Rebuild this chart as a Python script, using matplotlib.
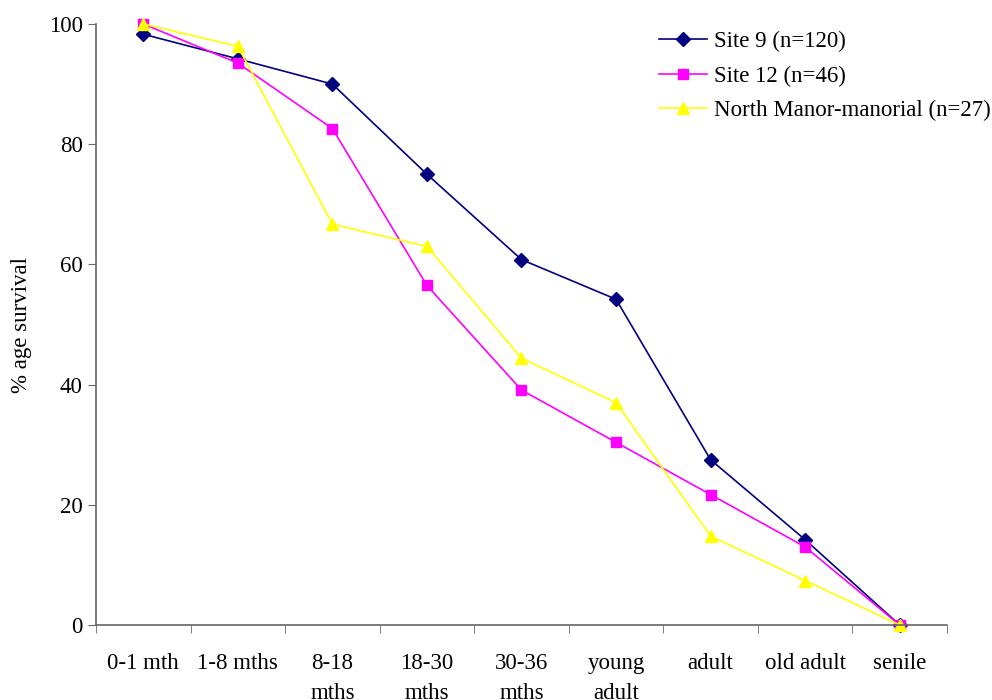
import matplotlib
matplotlib.use("Agg")
import matplotlib.pyplot as plt
import numpy as np

plt.rcParams['font.family'] = ['Liberation Serif', 'DejaVu Serif']

stages = ['0-1 mth', '1-8 mths', '8-18\nmths', '18-30\nmths', '30-36\nmths',
          'young\nadult', 'adult', 'old adult', 'senile']

site9 = [98.3, 94.2, 90.0, 75.0, 60.8, 54.2, 27.5, 14.2, 0.0]
site12 = [100.0, 93.5, 82.6, 56.5, 39.1, 30.4, 21.7, 13.0, 0.0]
north_manor = [100.0, 96.3, 66.7, 63.0, 44.4, 37.0, 14.8, 7.4, 0.0]

series = [
    ('Site 9 (n=120)', site9, '#000080', 'D', 7),
    ('Site 12 (n=46)', site12, '#FF00FF', 's', 7),
    ('North Manor-manorial (n=27)', north_manor, '#FFFF00', '^', 8),
]

fs = 16.5

fig = plt.figure(figsize=(9.92, 7.0), dpi=100)
ax = fig.add_axes([0.0968, 0.1071, 0.8578, 0.8586])

x = np.arange(len(stages))
for label, vals, color, marker, ms in series:
    ax.plot(x, vals, color=color, marker=marker, markersize=ms,
            linewidth=1.2, label=label, clip_on=False)

ax.set_xlim(-0.5, len(stages) - 0.5)
ax.set_ylim(0, 100)
ax.set_yticks(range(0, 101, 20))

# category labels sit between boundary ticks
ax.set_xticks(x)
ax.set_xticklabels(stages, fontsize=fs, linespacing=1.6)
ax.tick_params(axis='x', which='major', length=0, pad=20)
ax.set_xticks(np.arange(-0.5, len(stages)), minor=True)
ax.tick_params(axis='x', which='minor', length=6, color='#666666', direction='out')
ax.tick_params(axis='y', labelsize=fs, length=6, color='#666666', direction='out')

for side in ('top', 'right'):
    ax.spines[side].set_visible(False)
for side in ('left', 'bottom'):
    ax.spines[side].set_color('#666666')
    ax.spines[side].set_linewidth(1.2)

ax.set_ylabel('% age survival', fontsize=fs, labelpad=12)

ax.legend(loc='upper left', bbox_to_anchor=(0.655, 0.969),
          bbox_transform=fig.transFigure, frameon=False, fontsize=fs,
          handlelength=2.1, handletextpad=0.3, labelspacing=0.59,
          borderaxespad=0)

fig.savefig('out.png', dpi=100)
